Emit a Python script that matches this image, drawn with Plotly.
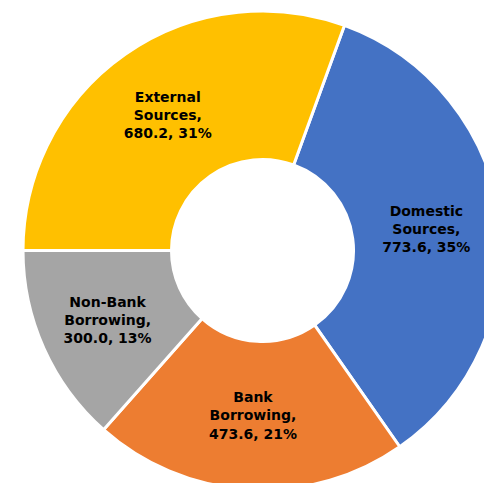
import plotly.graph_objects as go

labels = ["Domestic<br>Sources", "Bank<br>Borrowing", "Non-Bank<br>Borrowing", "External<br>Sources"]
values = [773.6, 473.6, 300.0, 680.2]
colors = ["#4472C4", "#ED7D31", "#A5A5A5", "#FFC000"]

fig = go.Figure(go.Pie(
    labels=labels,
    values=values,
    sort=False,
    direction="clockwise",
    rotation=20,
    hole=0.38,
    marker=dict(colors=colors, line=dict(color="white", width=3)),
    texttemplate="<b>%{label},<br>%{value:.1f}, %{percent:.0%}</b>",
    textposition="inside",
    insidetextorientation="horizontal",
    textfont=dict(family="DejaVu Sans", size=14, color="black"),
    showlegend=False,
))

fig.update_layout(
    width=502, height=490, autosize=False,
    margin=dict(l=23, t=11, r=0, b=0, pad=0),
    paper_bgcolor="white",
    plot_bgcolor="white",
)

fig.write_html("out.html", post_script="document.documentElement.style.overflow='hidden';document.body.style.overflow='hidden';document.body.style.margin='0';")
